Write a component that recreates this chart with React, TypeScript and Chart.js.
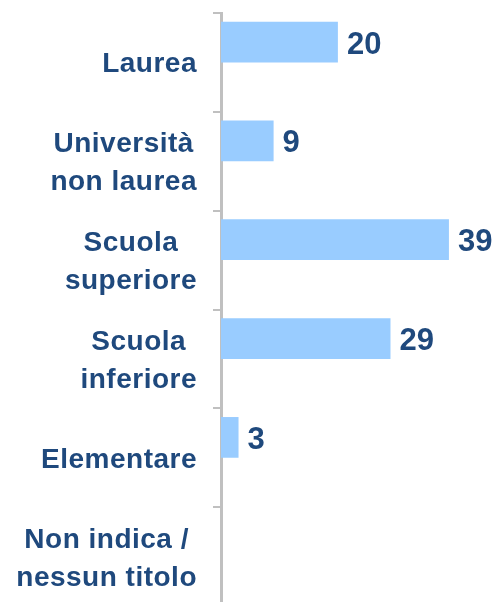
import React, { useEffect, useRef } from 'react';
import { Chart, registerables } from 'chart.js';

Chart.register(...registerables);

// ---- data ----
const categories: string[][] = [
  ['Laurea'],
  ['Università', 'non laurea'],
  ['Scuola', 'superiore'],
  ['Scuola', 'inferiore'],
  ['Elementare'],
  ['Non indica /', 'nessun titolo'],
];
const values: (number | null)[] = [20, 9, 39, 29, 3, null];
const emptySeries: (number | null)[] = [null, null, null, null, null, null];
const xMin = 0;
const xMax = 45;

// ---- style ----
const FONT = "'Liberation Sans', Arial, Helvetica, sans-serif";
const TEXT_COLOR = '#1F497D';
const BAR_COLOR = '#99CCFF';
const AXIS_COLOR = '#C0C0C0';

const labelPlugin = {
  id: 'customLabels',
  afterDraw(chart: any) {
    const ctx: CanvasRenderingContext2D = chart.ctx;
    const yScale = chart.scales.y;
    ctx.save();
    ctx.fillStyle = TEXT_COLOR;
    ctx.font = `bold 28px ${FONT}`;
    (ctx as any).letterSpacing = '0.5px';
    ctx.textAlign = 'center';
    ctx.textBaseline = 'alphabetic';
    const rightEdge = yScale.right - 24;
    const lineH = 38;
    categories.forEach((lines, i) => {
      const cy = yScale.getPixelForValue(i);
      const widths = lines.map((l) => ctx.measureText(l).width);
      const blockW = Math.max(...widths);
      const cx = rightEdge - blockW / 2;
      const first = cy - ((lines.length - 1) * lineH) / 2 + 10;
      lines.forEach((l, j) => ctx.fillText(l, cx, first + j * lineH));
    });

    const meta = chart.getDatasetMeta(0);
    ctx.font = `bold 31px ${FONT}`;
    (ctx as any).letterSpacing = '0px';
    ctx.textAlign = 'left';
    meta.data.forEach((bar: any, i: number) => {
      const v = values[i];
      if (v == null) return;
      ctx.fillText(String(v), bar.x + 9, bar.y + 11.5);
    });
    ctx.restore();
  },
};

export default function App() {
  const ref = useRef<HTMLCanvasElement>(null);
  useEffect(() => {
    if (!ref.current) return;
    const chart = new Chart(ref.current, {
      type: 'bar',
      data: {
        labels: categories.map((c) => c.join(' ')),
        datasets: [
          {
            data: values as any,
            backgroundColor: BAR_COLOR,
            borderWidth: 0,
            barPercentage: 1,
            categoryPercentage: 0.824,
          },
          {
            data: emptySeries as any,
            backgroundColor: BAR_COLOR,
            borderWidth: 0,
            barPercentage: 1,
            categoryPercentage: 0.824,
          },
        ],
      },
      options: {
        indexAxis: 'y',
        responsive: false,
        animation: false,
        layout: { padding: { top: 13, left: 0, right: 12, bottom: 14 } },
        plugins: {
          legend: { display: false },
          tooltip: { enabled: false },
        },
        scales: {
          x: {
            display: false,
            min: xMin,
            max: xMax,
          },
          y: {
            type: 'category',
            offset: true,
            grid: {
              display: true,
              offset: true,
              drawOnChartArea: false,
              drawTicks: true,
              tickLength: 8,
              color: AXIS_COLOR,
              lineWidth: 2,
            },
            border: { display: true, color: AXIS_COLOR, width: 3 },
            ticks: { display: false },
            afterFit: (s: any) => {
              s.width = 221;
            },
          },
        },
      },
      plugins: [labelPlugin],
    });
    return () => chart.destroy();
  }, []);

  return (
    <div style={{ position: 'fixed', left: 0, top: 0, width: 496, height: 620, background: '#fff' }}>
      <canvas ref={ref} width={496} height={620} style={{ display: 'block' }} />
    </div>
  );
}
